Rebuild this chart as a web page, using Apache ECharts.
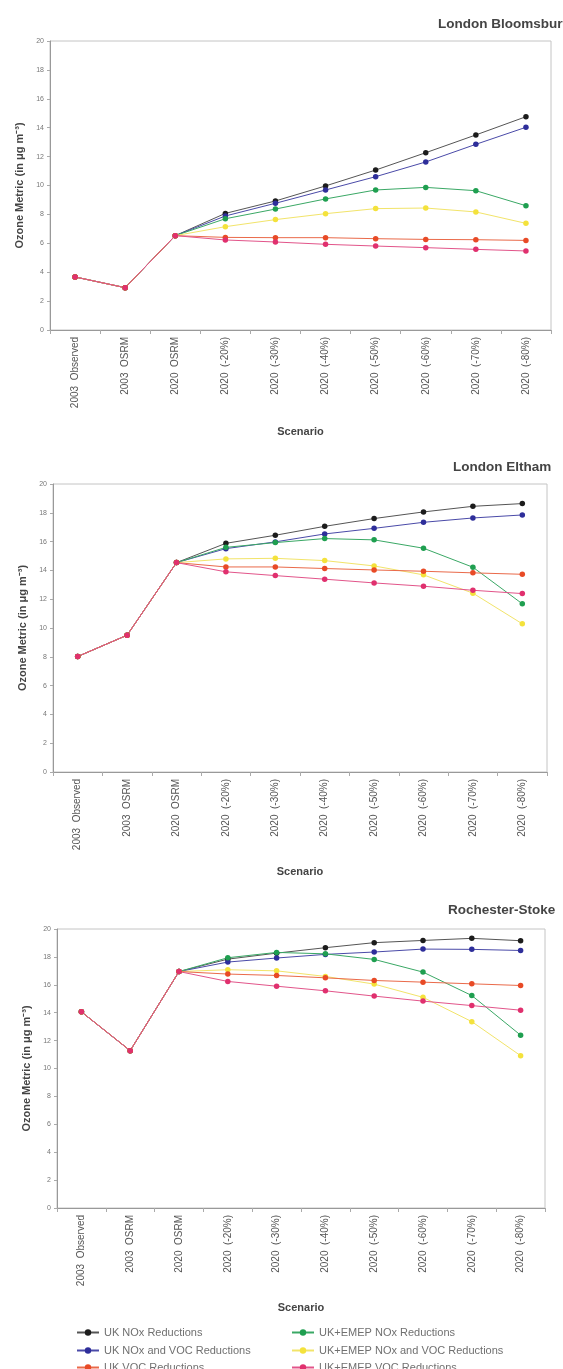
<!DOCTYPE html>
<html>
<head>
<meta charset="utf-8">
<script src="https://cdn.jsdelivr.net/npm/echarts@6/dist/echarts.min.js"></script>
<style>
html,body{margin:0;padding:0;background:#fff;}
#c{width:563px;height:1369px;}
</style>
</head>
<body>
<div id="c"></div>
<script>
// ---- data ----
const categories = ['2003  Observed','2003  OSRM','2020  OSRM','2020  (-20%)','2020  (-30%)','2020  (-40%)','2020  (-50%)','2020  (-60%)','2020  (-70%)','2020  (-80%)'];
const seriesNames = ['UK NOx Reductions','UK NOx and VOC Reductions','UK+EMEP NOx Reductions','UK+EMEP NOx and VOC Reductions','UK VOC Reductions','UK+EMEP VOC Reductions'];
const siteTitles = ['London Bloomsbury','London Eltham','Rochester-Stoke'];

// London Bloomsbury
const bloomBase = [3.67, 2.93, 6.53];
const bloomUKNOx = [8.07, 8.93, 9.97, 11.07, 12.27, 13.50, 14.76];
const bloomUKNOxVOC = [7.89, 8.77, 9.69, 10.61, 11.63, 12.85, 14.03];
const bloomEMEPNOx = [7.70, 8.37, 9.07, 9.69, 9.87, 9.64, 8.60];
const bloomEMEPNOxVOC = [7.15, 7.64, 8.05, 8.40, 8.44, 8.17, 7.38];
const bloomUKVOC = [6.41, 6.39, 6.39, 6.32, 6.27, 6.25, 6.20];
const bloomEMEPVOC = [6.23, 6.09, 5.93, 5.81, 5.70, 5.58, 5.47];

// London Eltham
const elthBase = [8.02, 9.50, 14.54];
const elthUKNOx = [15.88, 16.44, 17.06, 17.60, 18.06, 18.45, 18.64];
const elthUKNOxVOC = [15.51, 15.98, 16.53, 16.92, 17.34, 17.64, 17.85];
const elthEMEPNOx = [15.60, 15.93, 16.21, 16.12, 15.54, 14.22, 11.68];
const elthEMEPNOxVOC = [14.80, 14.84, 14.68, 14.31, 13.69, 12.42, 10.29];
const elthUKVOC = [14.24, 14.24, 14.13, 14.03, 13.94, 13.83, 13.73];
const elthEMEPVOC = [13.90, 13.64, 13.39, 13.13, 12.90, 12.62, 12.39];

// Rochester-Stoke
const rochBase = [14.06, 11.28, 16.95];
const rochUKNOx = [17.84, 18.27, 18.66, 19.02, 19.18, 19.33, 19.16];
const rochUKNOxVOC = [17.63, 17.92, 18.18, 18.35, 18.56, 18.54, 18.46];
const rochEMEPNOx = [17.94, 18.32, 18.22, 17.82, 16.91, 15.23, 12.39];
const rochEMEPNOxVOC = [17.08, 17.00, 16.60, 16.05, 15.10, 13.36, 10.92];
const rochUKVOC = [16.77, 16.67, 16.50, 16.31, 16.19, 16.07, 15.95];
const rochEMEPVOC = [16.24, 15.90, 15.57, 15.19, 14.83, 14.51, 14.18];

// ---- styling ----
const FONT = 'Liberation Sans, Arial, sans-serif';
const colors = ['#1c1c1c', '#2e2e9a', '#1f9f50', '#f4e23c', '#e84a26', '#e0306e'];
const lineColors = ['#555555', '#4a4aa8', '#3aa865', '#f2e46a', '#ea6a4a', '#e2558a'];

const sites = [
  {base: bloomBase, vals: [bloomUKNOx, bloomUKNOxVOC, bloomEMEPNOx, bloomEMEPNOxVOC, bloomUKVOC, bloomEMEPVOC],
   grid: {left: 50, right: 12, top: 41, height: 289}, title: {left: 433, top: 12}, nameGap: 96},
  {base: elthBase, vals: [elthUKNOx, elthUKNOxVOC, elthEMEPNOx, elthEMEPNOxVOC, elthUKVOC, elthEMEPVOC],
   grid: {left: 53, right: 16, top: 484, height: 288}, title: {left: 448, top: 455}, nameGap: 94},
  {base: rochBase, vals: [rochUKNOx, rochUKNOxVOC, rochEMEPNOx, rochEMEPNOxVOC, rochUKVOC, rochEMEPVOC],
   grid: {left: 57, right: 18, top: 929, height: 279}, title: {left: 443, top: 898}, nameGap: 94}
];

const grids = [], xAxes = [], yAxes = [], series = [], titles = [];
sites.forEach((s, gi) => {
  grids.push(Object.assign({show: true, borderColor: '#c4c4c4', borderWidth: 1, backgroundColor: '#fff'}, s.grid));
  titles.push({text: siteTitles[gi], left: s.title.left, top: s.title.top,
    textStyle: {fontFamily: FONT, fontSize: 13.5, fontWeight: 'bold', color: '#444'}});
  xAxes.push({
    type: 'category', gridIndex: gi, data: categories, boundaryGap: true,
    name: 'Scenario', nameLocation: 'middle', nameGap: s.nameGap,
    nameTextStyle: {fontFamily: FONT, fontSize: 11, fontWeight: 'bold', color: '#444'},
    axisLine: {lineStyle: {color: '#999'}},
    axisTick: {show: true, length: 4, lineStyle: {color: '#aaa'}},
    axisLabel: {rotate: 90, interval: 0, margin: 7, fontFamily: FONT, fontSize: 10, color: '#555'},
    splitLine: {show: false}
  });
  yAxes.push({
    type: 'value', gridIndex: gi, min: 0, max: 20, interval: 2,
    name: 'Ozone Metric (in μg m⁻³)', nameLocation: 'middle', nameGap: 24,
    nameTextStyle: {fontFamily: FONT, fontSize: 11, fontWeight: 'bold', color: '#444'},
    axisLine: {show: true, lineStyle: {color: '#999'}},
    axisTick: {show: true, length: 3, lineStyle: {color: '#aaa'}},
    axisLabel: {fontFamily: FONT, fontSize: 7, color: '#777', margin: 6},
    splitLine: {show: false}
  });
  [0, 1, 2, 3, 4, 5].forEach(k => {
    series.push({
      type: 'line', name: seriesNames[k], xAxisIndex: gi, yAxisIndex: gi,
      data: s.base.concat(s.vals[k]),
      symbol: 'circle', symbolSize: 5.5, showSymbol: true,
      itemStyle: {color: colors[k]},
      lineStyle: {color: lineColors[k], width: 1},
      animation: false
    });
  });
});

const legendText = {fontFamily: FONT, fontSize: 11, color: '#707070'};
// legend layout: two columns of three rows
const legendSlots = [
  {k: 0, left: 76, top: 1327}, {k: 1, left: 76, top: 1345}, {k: 4, left: 76, top: 1362},
  {k: 2, left: 291, top: 1327}, {k: 3, left: 291, top: 1345}, {k: 5, left: 291, top: 1362}
];
const legends = legendSlots.map(sl => ({
  data: [seriesNames[sl.k]], left: sl.left, top: sl.top, orient: 'horizontal',
  itemWidth: 22, itemHeight: 8, itemGap: 3, padding: 0, textStyle: legendText
}));

const chart = echarts.init(document.getElementById('c'), null, {renderer: 'canvas'});
chart.setOption({
  backgroundColor: '#fff',
  animation: false,
  title: titles,
  grid: grids,
  xAxis: xAxes,
  yAxis: yAxes,
  legend: legends,
  series: series
});
</script>
</body>
</html>
